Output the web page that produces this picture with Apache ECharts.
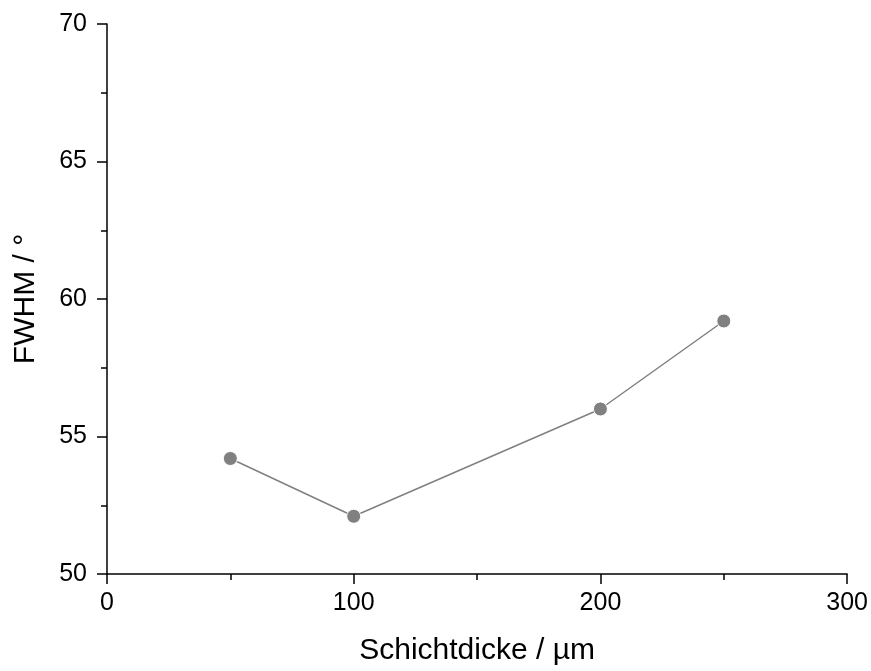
<!DOCTYPE html>
<html>
<head>
<meta charset="utf-8">
<style>
  html, body { margin: 0; padding: 0; background: #fff; }
  #chart { width: 871px; height: 671px; }
</style>
<script src="https://cdn.jsdelivr.net/npm/echarts@6/dist/echarts.min.js"></script>
</head>
<body>
<div id="chart"></div>
<script>
// Layer thickness (µm) and measured FWHM (°)
const thickness = [50, 100, 200, 250];
const fwhm = [54.2, 52.1, 56.0, 59.2];

const xTitle = 'Schichtdicke / µm';
const yTitle = 'FWHM / °';

const chart = echarts.init(document.getElementById('chart'));
const font = 'Liberation Sans, Arial, sans-serif';
const axisLine = { show: true, lineStyle: { color: '#000', width: 1.5 } };

chart.setOption({
  animation: false,
  grid: { left: 107, right: 23, top: 24, bottom: 95 },
  xAxis: {
    type: 'value', min: 0, max: 300, interval: 100,
    name: xTitle, nameLocation: 'middle', nameGap: 62,
    nameTextStyle: { fontFamily: font, fontSize: 30, color: '#000' },
    axisLine: axisLine,
    axisTick: { show: true, inside: false, length: 10, lineStyle: { color: '#000', width: 1.5 } },
    minorTick: { show: true, splitNumber: 2, length: 6, lineStyle: { color: '#000', width: 1.5 } },
    axisLabel: { fontFamily: font, fontSize: 25, color: '#000', margin: 17 },
    splitLine: { show: false }
  },
  yAxis: {
    type: 'value', min: 50, max: 70, interval: 5,
    name: yTitle, nameLocation: 'middle', nameGap: 66, nameRotate: 90,
    nameTextStyle: { fontFamily: font, fontSize: 30, color: '#000' },
    axisLine: axisLine,
    axisTick: { show: true, inside: false, length: 10, lineStyle: { color: '#000', width: 1.5 } },
    minorTick: { show: true, splitNumber: 2, length: 6, lineStyle: { color: '#000', width: 1.5 } },
    axisLabel: { fontFamily: font, fontSize: 25, color: '#000', margin: 20 },
    splitLine: { show: false }
  },
  series: [{
    type: 'line',
    data: thickness.map((t, i) => [t, fwhm[i]]),
    symbol: 'circle', symbolSize: 14,
    lineStyle: { color: '#808080', width: 1.5 },
    itemStyle: { color: '#808080', borderColor: '#fff', borderWidth: 1 }
  }]
});
</script>
</body>
</html>
